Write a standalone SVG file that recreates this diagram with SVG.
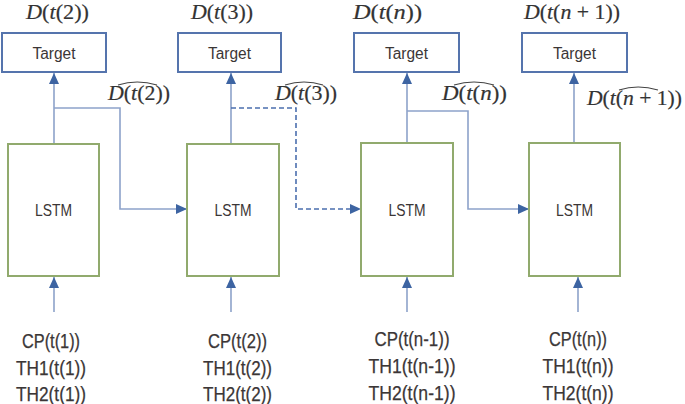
<svg xmlns="http://www.w3.org/2000/svg" width="685" height="404" viewBox="0 0 685 404">
<style>
.tgt{fill:#fff;stroke:#5574ad;stroke-width:2}
.lstm{fill:#fff;stroke:#91aa6d;stroke-width:2}
.lbl{font-family:"Liberation Sans",Arial,sans-serif;fill:#3b3636;text-anchor:middle}
.in{font-family:"Liberation Sans",Arial,sans-serif;font-size:20px;fill:#3b3636;text-anchor:middle;stroke:#3b3636;stroke-width:0.25}
.math{font-family:"Liberation Serif","Times New Roman",serif;font-size:22px;fill:#333;stroke:#333;stroke-width:0.2}
.it{font-style:italic}
.ln{fill:none;stroke:#8da2ca;stroke-width:1.6}
.dash{fill:none;stroke:#4b6fae;stroke-width:1.6;stroke-dasharray:5 3}
.hat{fill:none;stroke:#444;stroke-width:1.1}
</style>
<defs>
<marker id="ah" markerUnits="userSpaceOnUse" markerWidth="11" markerHeight="10" refX="11" refY="5" orient="auto">
<path d="M0,0 L11,5 L0,10 z" fill="#3d64a2"/>
</marker>
</defs>

<g id="connectors">
<path class="ln" d="M54,144 L54,73" marker-end="url(#ah)"/>
<path class="ln" d="M54,108 L120,108 L120,209 L187,209" marker-end="url(#ah)"/>
<path class="ln" d="M231,143 L231,73" marker-end="url(#ah)"/>
<path class="dash" d="M231,108 L296,108 L296,209 L361,209" marker-end="url(#ah)"/>
<path class="ln" d="M407,143 L407,73" marker-end="url(#ah)"/>
<path class="ln" d="M407,111 L468,111 L468,209 L529,209" marker-end="url(#ah)"/>
<path class="ln" d="M574,143 L574,73" marker-end="url(#ah)"/>
<path class="ln" d="M54,312 L54,277" marker-end="url(#ah)"/>
<path class="ln" d="M231,312 L231,277" marker-end="url(#ah)"/>
<path class="ln" d="M407,312 L407,277" marker-end="url(#ah)"/>
<path class="ln" d="M578,312 L578,277" marker-end="url(#ah)"/>
</g>

<g id="target1">
<rect class="tgt" x="2" y="33" width="104" height="39"/>
<text class="lbl" x="54" y="58.5" font-size="16" textLength="43" lengthAdjust="spacingAndGlyphs">Target</text>
</g>
<g id="target2">
<rect class="tgt" x="178" y="33" width="103" height="39"/>
<text class="lbl" x="229.5" y="58.5" font-size="16" textLength="43" lengthAdjust="spacingAndGlyphs">Target</text>
</g>
<g id="target3">
<rect class="tgt" x="354" y="33" width="105" height="39"/>
<text class="lbl" x="406.5" y="58.5" font-size="16" textLength="43" lengthAdjust="spacingAndGlyphs">Target</text>
</g>
<g id="target4">
<rect class="tgt" x="522" y="33" width="105" height="39"/>
<text class="lbl" x="574.5" y="58.5" font-size="16" textLength="43" lengthAdjust="spacingAndGlyphs">Target</text>
</g>

<g id="lstm1">
<rect class="lstm" x="8" y="144" width="91" height="132"/>
<text class="lbl" x="53.5" y="216" font-size="16" textLength="37" lengthAdjust="spacingAndGlyphs">LSTM</text>
</g>
<g id="lstm2">
<rect class="lstm" x="187" y="144" width="92" height="132"/>
<text class="lbl" x="233" y="216" font-size="16" textLength="37" lengthAdjust="spacingAndGlyphs">LSTM</text>
</g>
<g id="lstm3">
<rect class="lstm" x="361" y="143" width="92" height="133"/>
<text class="lbl" x="407" y="216" font-size="16" textLength="37" lengthAdjust="spacingAndGlyphs">LSTM</text>
</g>
<g id="lstm4">
<rect class="lstm" x="529" y="143" width="91" height="133"/>
<text class="lbl" x="574.5" y="216" font-size="16" textLength="37" lengthAdjust="spacingAndGlyphs">LSTM</text>
</g>

<g id="output-labels">
<text class="math" x="26" y="19" textLength="63" lengthAdjust="spacingAndGlyphs"><tspan class="it">D</tspan>(<tspan class="it">t</tspan>(2))</text>
<text class="math" x="191" y="19" textLength="62" lengthAdjust="spacingAndGlyphs"><tspan class="it">D</tspan>(<tspan class="it">t</tspan>(3))</text>
<text class="math" x="353" y="19" textLength="69" lengthAdjust="spacingAndGlyphs"><tspan class="it">D</tspan>(<tspan class="it">t</tspan>(<tspan class="it">n</tspan>))</text>
<text class="math" x="524" y="19" textLength="96" lengthAdjust="spacingAndGlyphs"><tspan class="it">D</tspan>(<tspan class="it">t</tspan>(<tspan class="it">n</tspan> + 1))</text>
</g>

<g id="predicted-labels">
<text class="math" x="108" y="100" textLength="62" lengthAdjust="spacingAndGlyphs"><tspan class="it">D</tspan>(<tspan class="it">t</tspan>(2))</text>
<path class="hat" d="M118,85 Q137,79 157,85"/>
<text class="math" x="275" y="100" textLength="62" lengthAdjust="spacingAndGlyphs"><tspan class="it">D</tspan>(<tspan class="it">t</tspan>(3))</text>
<path class="hat" d="M285,85 Q304,79 323,85"/>
<text class="math" x="442" y="100" textLength="65" lengthAdjust="spacingAndGlyphs"><tspan class="it">D</tspan>(<tspan class="it">t</tspan>(<tspan class="it">n</tspan>))</text>
<path class="hat" d="M454,85 Q474,79 494,85"/>
<text class="math" x="587" y="105" textLength="95" lengthAdjust="spacingAndGlyphs"><tspan class="it">D</tspan>(<tspan class="it">t</tspan>(<tspan class="it">n</tspan> + 1))</text>
<path class="hat" d="M619,90 Q638,84 658,90"/>
</g>

<g id="inputs1">
<text class="in" x="51" y="348" textLength="58" lengthAdjust="spacingAndGlyphs">CP(t(1))</text>
<text class="in" x="51" y="375" textLength="70" lengthAdjust="spacingAndGlyphs">TH1(t(1))</text>
<text class="in" x="51" y="401" textLength="70" lengthAdjust="spacingAndGlyphs">TH2(t(1))</text>
</g>
<g id="inputs2">
<text class="in" x="237.5" y="348" textLength="59" lengthAdjust="spacingAndGlyphs">CP(t(2))</text>
<text class="in" x="237.5" y="375" textLength="69" lengthAdjust="spacingAndGlyphs">TH1(t(2))</text>
<text class="in" x="237.5" y="401" textLength="69" lengthAdjust="spacingAndGlyphs">TH2(t(2))</text>
</g>
<g id="inputs3">
<text class="in" x="412" y="346" textLength="75" lengthAdjust="spacingAndGlyphs">CP(t(n-1))</text>
<text class="in" x="412" y="373" textLength="87" lengthAdjust="spacingAndGlyphs">TH1(t(n-1))</text>
<text class="in" x="412" y="400" textLength="87" lengthAdjust="spacingAndGlyphs">TH2(t(n-1))</text>
</g>
<g id="inputs4">
<text class="in" x="578" y="346" textLength="58" lengthAdjust="spacingAndGlyphs">CP(t(n))</text>
<text class="in" x="578" y="373" textLength="71" lengthAdjust="spacingAndGlyphs">TH1(t(n))</text>
<text class="in" x="578" y="400" textLength="71" lengthAdjust="spacingAndGlyphs">TH2(t(n))</text>
</g>
</svg>
